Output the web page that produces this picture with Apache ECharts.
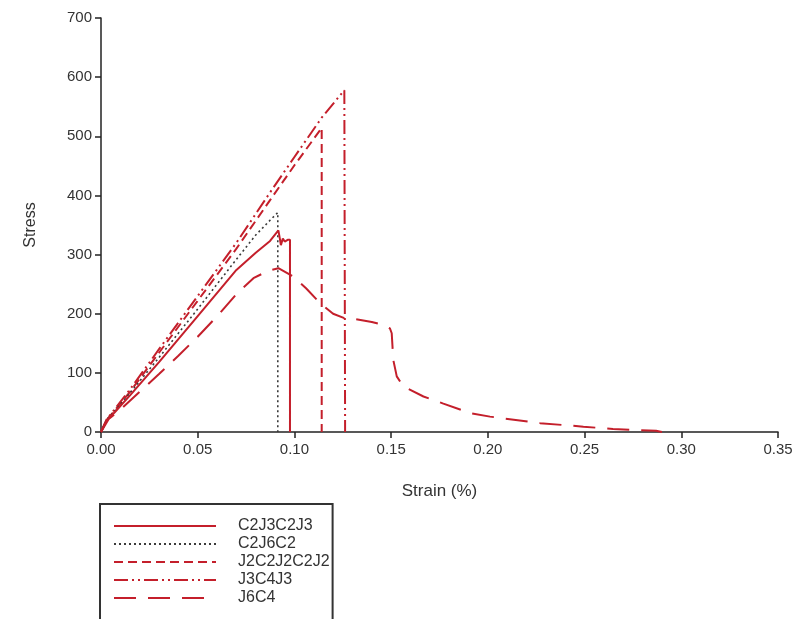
<!DOCTYPE html>
<html>
<head>
<meta charset="utf-8">
<script src="https://cdn.jsdelivr.net/npm/echarts@6/dist/echarts.min.js"></script>
<style>html,body{margin:0;padding:0;background:#fff;}#chart{width:800px;height:619px;}</style>
</head>
<body>
<div id="chart"></div>
<script>
// Series names (legend order)
var seriesNames = ['C2J3C2J3', 'C2J6C2', 'J2C2J2C2J2', 'J3C4J3', 'J6C4'];

// [strain, stress] pairs
var c2j3c2j3 = [[0,0],[0.003,20],[0.007,33],[0.015,62],[0.03,118],[0.05,196],[0.07,274],[0.08,303],[0.0874,323],[0.0917,341],[0.0925,326],[0.093,316],[0.0936,319],[0.094,327],[0.095,322],[0.0965,325],[0.0977,325],[0.0977,0]];
var c2j6c2 = [[0,0],[0.003,21],[0.007,35],[0.015,66],[0.03,126],[0.05,208],[0.07,292],[0.08,333],[0.0874,358],[0.0914,371],[0.0914,0]];
var j2c2j2c2j2 = [[0,0],[0.003,21],[0.007,36],[0.015,68],[0.03,134],[0.05,222],[0.07,310],[0.0874,392],[0.1,451],[0.1141,514],[0.1141,0]];
var j3c4j3 = [[0,0],[0.003,22],[0.007,38],[0.015,72],[0.03,140],[0.05,230],[0.07,320],[0.0874,405],[0.1,465],[0.114,531],[0.1258,578],[0.1262,0]];
var j6c4 = [[0,0],[0.004,22],[0.01,38],[0.02,68],[0.03,98],[0.04,129],[0.05,161],[0.0615,201],[0.0702,234],[0.0788,260],[0.086,272],[0.0917,277],[0.0994,263],[0.106,243],[0.1132,218],[0.12,200],[0.1262,192],[0.131,191],[0.14,186],[0.146,181],[0.1494,175],[0.1503,167],[0.1511,122],[0.1529,94],[0.1563,77],[0.1667,60],[0.177,48],[0.1908,32],[0.2011,26],[0.227,15],[0.2494,9],[0.2647,5],[0.287,2],[0.29,0]];

// Axis ticks
var xMin = 0, xMax = 0.35, xStep = 0.05;
var yMin = 0, yMax = 700, yStep = 100;

var red = '#c41f2b';
var dark = '#3a3a3a';
var seriesData = [c2j3c2j3, c2j6c2, j2c2j2c2j2, j3c4j3, j6c4];
var seriesStyles = [
  {color: red, width: 2, type: 'solid'},
  {color: dark, width: 1.6, type: [2, 3]},
  {color: red, width: 2, type: [9, 5]},
  {color: red, width: 2, type: [14, 4, 2, 4, 2, 4]},
  {color: red, width: 2, type: [22, 12]}
];

var chart = echarts.init(document.getElementById('chart'));
var font = 'Liberation Sans, Arial, sans-serif';
chart.setOption({
  animation: false,
  backgroundColor: '#fff',
  grid: {left: 101, right: 22, top: 18, bottom: 187, containLabel: false},
  xAxis: {
    type: 'value', min: xMin, max: xMax, interval: xStep,
    name: 'Strain (%)', nameLocation: 'middle', nameGap: 51,
    nameTextStyle: {fontFamily: font, fontSize: 17, color: '#333'},
    axisLine: {show: true, lineStyle: {color: '#222', width: 1.5}},
    axisTick: {show: true, inside: false, length: 6, lineStyle: {color: '#222', width: 1.5}},
    axisLabel: {fontFamily: font, fontSize: 15, color: '#333', margin: 10, formatter: function (v) { return v.toFixed(2); }},
    splitLine: {show: false}
  },
  yAxis: {
    type: 'value', min: yMin, max: yMax, interval: yStep,
    name: 'Stress', nameLocation: 'middle', nameGap: 62, nameRotate: 90,
    nameTextStyle: {fontFamily: font, fontSize: 16, color: '#333'},
    axisLine: {show: true, lineStyle: {color: '#222', width: 1.5}},
    axisTick: {show: true, inside: false, length: 6, lineStyle: {color: '#222', width: 1.5}},
    axisLabel: {fontFamily: font, fontSize: 15, color: '#333', margin: 9},
    splitLine: {show: false}
  },
  legend: {
    orient: 'vertical', left: 100, top: 504, height: 90,
    padding: [14, 3, 16, 13], itemGap: 2, itemWidth: 102, itemHeight: 14,
    borderColor: '#333', borderWidth: 2, borderRadius: 0,
    itemStyle: {opacity: 0},
    textStyle: {fontFamily: font, fontSize: 16, lineHeight: 14, color: '#333', padding: [0, 0, 0, 17]},
    data: seriesNames
  },
  series: seriesNames.map(function (n, i) {
    return {
      name: n, type: 'line', data: seriesData[i], symbol: 'none', showSymbol: false,
      lineStyle: {color: seriesStyles[i].color, width: seriesStyles[i].width, type: seriesStyles[i].type},
      itemStyle: {color: seriesStyles[i].color},
      z: 5 - i
    };
  })
});
</script>
</body>
</html>
